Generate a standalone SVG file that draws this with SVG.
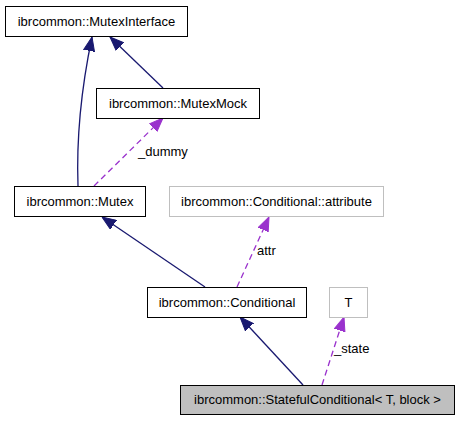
<svg xmlns="http://www.w3.org/2000/svg" width="460" height="421" viewBox="0 0 460 421">
<style>
  .node rect { fill: #ffffff; stroke: #000000; stroke-width: 1; }
  .node.ext rect { stroke: #bfbfbf; }
  .node.main rect { fill: #bfbfbf; }
  text { font-family: "Liberation Sans", Arial, sans-serif; font-size: 13px; fill: #000000; }
  .node text { text-anchor: middle; }
  .inh { fill: none; stroke: #191970; stroke-width: 1.3; }
  .use { fill: none; stroke: #9a32cd; stroke-width: 1.3; stroke-dasharray: 6,4; }
</style>
<defs>
  <marker id="ah-inh" markerUnits="userSpaceOnUse" markerWidth="14" markerHeight="12" viewBox="0 0 14 12" refX="14" refY="6" orient="auto">
    <path d="M0,0.5 L14,6 L0,11.5 Z" fill="#191970" stroke="#191970" stroke-width="1"/>
  </marker>
  <marker id="ah-use" markerUnits="userSpaceOnUse" markerWidth="14" markerHeight="12" viewBox="0 0 14 12" refX="14" refY="6" orient="auto">
    <path d="M0,0.5 L14,6 L0,11.5 Z" fill="#9a32cd" stroke="#9a32cd" stroke-width="1"/>
  </marker>
</defs>
<rect x="0" y="0" width="460" height="421" fill="#ffffff"/>
<g id="connectors">
  <path class="inh" d="M78,186 C76,130 83,80 92,37" marker-end="url(#ah-inh)"/>
  <path class="inh" d="M163,88 L110,37" marker-end="url(#ah-inh)"/>
  <path class="use" d="M94,186 L163,118" marker-end="url(#ah-use)"/>
  <path class="inh" d="M205,287 L102,217" marker-end="url(#ah-inh)"/>
  <path class="use" d="M237,287 L269,217" marker-end="url(#ah-use)"/>
  <path class="inh" d="M303,385 L240,317" marker-end="url(#ah-inh)"/>
  <path class="use" d="M322,385 L344,317" marker-end="url(#ah-use)"/>
  <text x="138" y="156">_dummy</text>
  <text x="257" y="255">attr</text>
  <text x="334" y="353">_state</text>
</g>
<g id="node-mutexinterface" class="node">
  <rect x="5.5" y="6.5" width="182" height="30"/>
  <text x="96.5" y="26">ibrcommon::MutexInterface</text>
</g>
<g id="node-mutexmock" class="node">
  <rect x="96.5" y="88.5" width="163" height="30"/>
  <text x="178" y="108">ibrcommon::MutexMock</text>
</g>
<g id="node-mutex" class="node">
  <rect x="14.5" y="186.5" width="131" height="30"/>
  <text x="80" y="206">ibrcommon::Mutex</text>
</g>
<g id="node-attribute" class="node ext">
  <rect x="169.5" y="186.5" width="214" height="30"/>
  <text x="276.5" y="206">ibrcommon::Conditional::attribute</text>
</g>
<g id="node-conditional" class="node">
  <rect x="147.5" y="287.5" width="159" height="30"/>
  <text x="227" y="307">ibrcommon::Conditional</text>
</g>
<g id="node-t" class="node ext">
  <rect x="329.5" y="287.5" width="38" height="30"/>
  <text x="348.5" y="307">T</text>
</g>
<g id="node-statefulconditional" class="node main">
  <rect x="180.5" y="385.5" width="274" height="29"/>
  <text x="317.5" y="404">ibrcommon::StatefulConditional&lt; T, block &gt;</text>
</g>
</svg>
